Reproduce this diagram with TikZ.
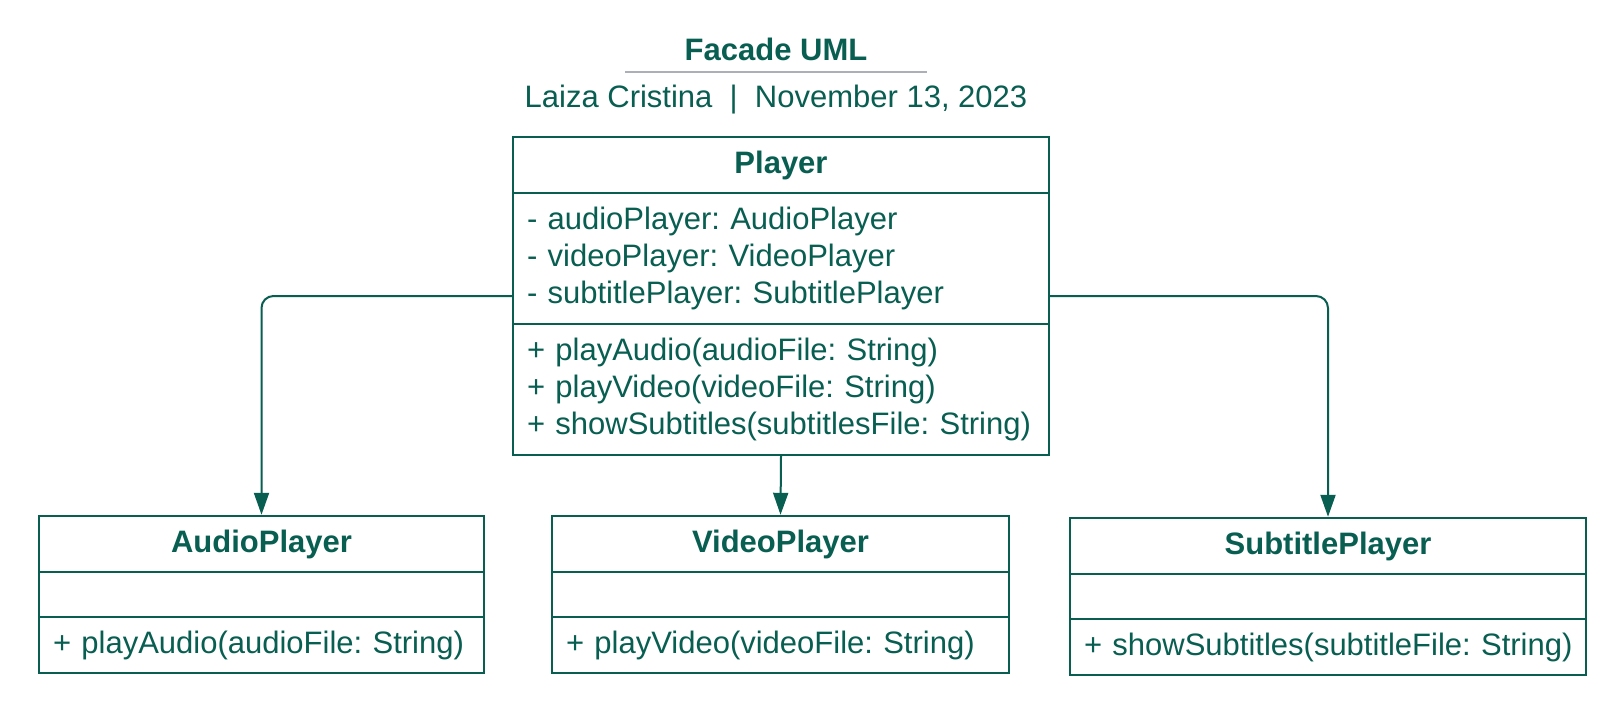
\documentclass[tikz,border=0pt]{standalone}
\usepackage{fontspec}
\setmainfont{Liberation Sans}
\usetikzlibrary{arrows.meta}
\definecolor{umlgreen}{RGB}{8,94,80}
\definecolor{rulegray}{RGB}{172,174,184}
\frenchspacing
\newcommand{\umlfont}{\fontsize{15.5pt}{18.7pt}\selectfont}
\tikzset{
  umlnode/.style = {rectangle, draw=umlgreen, text=umlgreen, line width=1.2pt,
    inner sep=0pt, font=\umlfont},
  cls_t/.style = {umlnode, font=\umlfont\bfseries, minimum width=#1,
    minimum height=28pt},% nom de la classe
  cls_a/.style = {umlnode, align=left, text width=#1, inner xsep=7pt,
    minimum height=65.5pt},% attributs / methodes, grande boite
  cls_e/.style = {umlnode, minimum width=#1, minimum height=22.5pt},% compartiment vide
  cls_m/.style = {umlnode, align=left, text width=#1, inner xsep=7pt,
    minimum height=28pt},% methode, petite boite
  conn/.style = {->, draw=umlgreen, line width=1pt, rounded corners=6pt},
}
\begin{document}
\begin{tikzpicture}[x=0.5pt,y=-0.5pt,>={Triangle[length=11pt,width=7.5pt]}]
  \useasboundingbox (0,0) rectangle (1606,706);

  % titre
  \node[text=umlgreen, font=\umlfont\bfseries] (title) at (776,49) {Facade UML};
  \draw[rulegray, line width=1pt] (625,72) -- (927,72);
  \node[text=umlgreen, font=\umlfont] (sub) at (776,100) {Laiza Cristina\ \ |\ \ November 13, 2023};

  % Player
  \node[cls_t=268pt] (pt) at (781,165) {Player};
  \node[cls_a=254pt] (pa) at (781,258.5) {- audioPlayer: AudioPlayer\\- videoPlayer: VideoPlayer\\- subtitlePlayer: SubtitlePlayer};
  \node[cls_a=254pt] (pm) at (781,389.5) {+ playAudio(audioFile: String)\\+ playVideo(videoFile: String)\\+ showSubtitles(subtitlesFile: String)};

  % AudioPlayer
  \node[cls_t=222.5pt] (at) at (261.5,544) {AudioPlayer};
  \node[cls_e=222.5pt] (ae) at (261.5,594.5) {};
  \node[cls_m=208.5pt] (am) at (261.5,645) {+ playAudio(audioFile: String)};

  % VideoPlayer
  \node[cls_t=228.5pt] (vt) at (780.5,544) {VideoPlayer};
  \node[cls_e=228.5pt] (ve) at (780.5,594.5) {};
  \node[cls_m=214.5pt] (vm) at (780.5,645) {+ playVideo(videoFile: String)};

  % SubtitlePlayer
  \node[cls_t=258pt] (st) at (1328,546) {SubtitlePlayer};
  \node[cls_e=258pt] (se) at (1328,596.5) {};
  \node[cls_m=244pt] (sm) at (1328,647) {\mbox{+ showSubtitles(subtitleFile: String)}};

  % liens
  \draw[conn] ([yshift=-18.75pt]pa.west) -| (at.north);
  \draw[conn] (pm.south) -- (vt.north);
  \draw[conn] ([yshift=-18.75pt]pa.east) -| (st.north);
\end{tikzpicture}
\end{document}
